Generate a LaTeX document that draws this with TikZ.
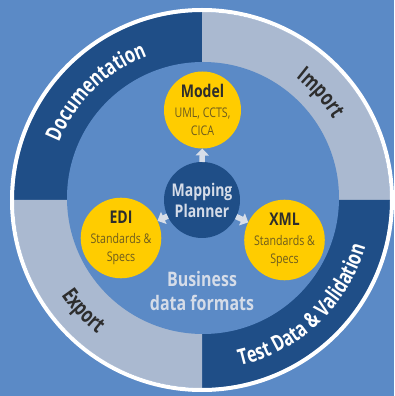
\documentclass[tikz,border=0pt]{standalone}
\usepackage{fontspec}
\setmainfont{Open Sans}
\newfontfamily\cnd[FakeStretch=0.8]{Open Sans}
\newfontfamily\cndr[FakeStretch=0.74]{Open Sans}
\usetikzlibrary{decorations.text,arrows.meta}
\definecolor{bgblue}{HTML}{5B8AC6}
\definecolor{darkblue}{HTML}{1F4E87}
\definecolor{lightring}{HTML}{AAB9D0}
\definecolor{gold}{HTML}{FFCC00}
\definecolor{arrowgray}{HTML}{D8DEE8}
\definecolor{paletext}{HTML}{D5DCE8}
\definecolor{darktext}{HTML}{2D2D2D}
\definecolor{subtext}{HTML}{6E5C1E}
\newcommand{\titlef}{\cnd\bfseries\fontsize{17.5}{20}\selectfont}
\newcommand{\subf}{\cnd\fontsize{13.3}{17.5}\selectfont}
\newcommand{\ringf}{\cndr\bfseries\fontsize{22}{26}\selectfont}
\begin{document}
\begin{tikzpicture}[x=1pt,y=1pt,
  yellowc/.style={circle, fill=gold, minimum size=77pt, inner sep=0pt, outer sep=0pt,
    align=center, text=subtext, font=\subf},
  centerc/.style={circle, fill=darkblue, minimum size=76pt, inner sep=0pt, outer sep=0pt,
    align=center, text=paletext, font=\cnd\bfseries\fontsize{17.5}{21}\selectfont},
  blockarrow/.style={draw=arrowgray, line width=5.5pt,
    -{Triangle[width=13pt,length=7pt,fill=arrowgray]}},
  ringlabel/.style 2 args={decorate, decoration={text along path, text align=center,
    text color=#1, text={|\ringf|#2}}}]
\useasboundingbox (0,0) rectangle (394,396);
\fill[bgblue] (0,0) rectangle (394,396);
\coordinate (C) at (202,196);
% ring quadrants
\fill[darkblue] (C) -- ++(90:188) arc[start angle=90,end angle=180,radius=188] -- cycle;
\fill[lightring] (C) -- ++(0:188) arc[start angle=0,end angle=90,radius=188] -- cycle;
\fill[darkblue] (C) -- ++(270:188) arc[start angle=270,end angle=360,radius=188] -- cycle;
\fill[lightring] (C) -- ++(180:188) arc[start angle=180,end angle=270,radius=188] -- cycle;
\draw[white, line width=4pt] (C) circle[radius=190];
\fill[bgblue] (203,198) circle[radius=136];
% ring labels
\path[ringlabel={white}{Documentation}]
  ([shift={(165:154)}]C) arc[start angle=165,end angle=104,radius=154];
\path[ringlabel={darktext}{Import}]
  ([shift={(72:154)}]C) arc[start angle=72,end angle=12,radius=154];
\path[ringlabel={white}{Test Data {\&} Validation}]
  ([shift={(-100:170)}]C) arc[start angle=-100,end angle=7,radius=170];
\path[ringlabel={darktext}{Export}]
  ([shift={(190:170)}]C) arc[start angle=190,end angle=256,radius=170];
% circles
\node[centerc] (mp) at (202,196) {Mapping\\Planner};
\node[yellowc] (model) at (202.5,286) {{\titlef\color{darktext}Model}\\[2.5pt]UML, CCTS,\\CICA};
\node[yellowc] (edi) at (121,158) {{\titlef\color{darktext}EDI}\\[2.5pt]Standards \&\\Specs};
\node[yellowc] (xml) at (284.5,156) {{\titlef\color{darktext}XML}\\[2.5pt]Standards \&\\Specs};
% arrows
\draw[blockarrow] (mp) -- (model);
\draw[blockarrow] (mp) -- (edi);
\draw[blockarrow] (mp) -- (xml);
% business text
\node[align=center, text=paletext, font=\cnd\bfseries\fontsize{20}{24}\selectfont] (biz) at (202,105) {Business\\data formats};
\end{tikzpicture}
\end{document}
